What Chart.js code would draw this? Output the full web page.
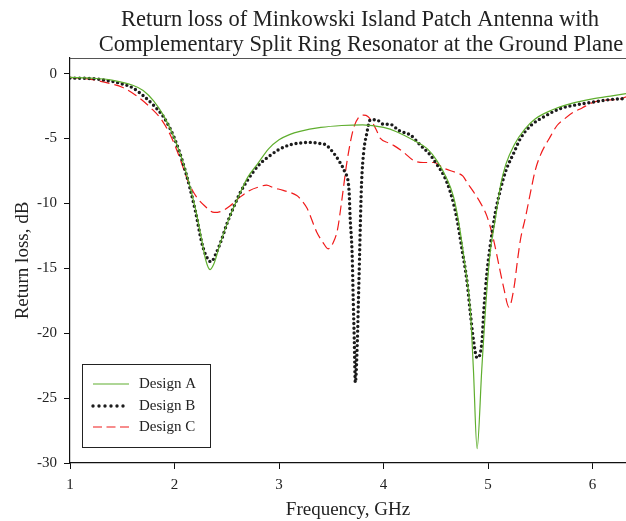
<!DOCTYPE html>
<html>
<head>
<meta charset="utf-8">
<script src="https://cdn.jsdelivr.net/npm/chart.js@4.4.1/dist/chart.umd.min.js"></script>
<style>
html,body{margin:0;padding:0;background:#fff;}
#c{display:block;}
</style>
</head>
<body>
<canvas id="c" width="626" height="521"></canvas>
<script>
// ---- data ----
const titleLines = ["Return loss of Minkowski Island Patch Antenna with", "Complementary Split Ring Resonator at the Ground Plane"];
const xLabel = "Frequency, GHz";
const yLabel = "Return loss, dB";
const seriesNames = ["Design A", "Design B", "Design C"];
const xTicks = [1, 2, 3, 4, 5, 6];
const yTicks = [0, -5, -10, -15, -20, -25, -30];

const freqA = [1.0,1.2,1.4,1.6,1.7,1.8,1.9,2.0,2.1,2.2,2.26,2.3,2.34,2.38,2.44,2.53,2.6,2.7,2.8,2.9,3.0,3.1,3.2,3.4,3.6,3.8,4.0,4.13,4.3,4.42,4.51,4.6,4.67,4.72,4.78,4.83,4.86,4.895,4.94,4.975,5.02,5.07,5.12,5.17,5.25,5.35,5.45,5.6,5.8,6.0,6.2,6.32];
const lossA = [-0.3,-0.35,-0.5,-0.9,-1.3,-2.1,-3.3,-5.0,-7.3,-10.4,-12.8,-14.4,-15.1,-14.6,-13.0,-11.0,-9.7,-8.0,-6.9,-5.8,-5.1,-4.7,-4.45,-4.15,-4.0,-3.95,-4.15,-4.5,-5.2,-5.8,-6.7,-8.0,-9.5,-11.5,-14.8,-18.2,-22.8,-28.9,-22.8,-18.2,-13.8,-11.2,-8.6,-7.0,-5.5,-4.3,-3.5,-2.85,-2.3,-1.95,-1.7,-1.55];

const freqB = [1.0,1.2,1.4,1.5,1.6,1.7,1.8,1.9,2.0,2.1,2.2,2.26,2.3,2.35,2.4,2.45,2.5,2.56,2.63,2.7,2.8,2.9,3.0,3.1,3.2,3.3,3.4,3.45,3.52,3.58,3.63,3.67,3.68,3.7,3.71,3.72,3.73,3.75,3.76,3.77,3.78,3.79,3.81,3.84,3.87,3.93,4.0,4.06,4.15,4.26,4.35,4.45,4.51,4.58,4.64,4.7,4.75,4.8,4.83,4.86,4.895,4.94,4.96,4.99,5.02,5.07,5.12,5.17,5.25,5.31,5.41,5.53,5.69,5.85,6.01,6.17,6.32];
const lossB = [-0.35,-0.38,-0.6,-0.8,-1.1,-1.7,-2.45,-3.4,-5.0,-7.4,-10.6,-13.0,-14.0,-14.5,-13.8,-12.8,-11.6,-10.4,-9.15,-8.2,-7.1,-6.4,-5.85,-5.5,-5.35,-5.3,-5.4,-5.5,-6.1,-6.8,-7.6,-9.0,-11.0,-14.0,-17.4,-20.5,-23.8,-20.5,-17.4,-14.3,-11.0,-8.4,-6.05,-4.6,-3.6,-3.55,-3.9,-3.9,-4.4,-4.75,-5.5,-6.3,-7.0,-7.9,-9.15,-11.1,-13.5,-16.1,-18.4,-20.5,-21.9,-20.8,-18.2,-15.3,-13.3,-10.7,-8.9,-7.5,-6.05,-5.0,-4.0,-3.35,-2.7,-2.4,-2.19,-2.0,-1.93];

const freqC = [1.0,1.2,1.4,1.5,1.65,1.78,1.88,1.97,2.05,2.13,2.21,2.29,2.38,2.45,2.53,2.63,2.72,2.8,2.88,2.95,3.04,3.17,3.22,3.27,3.36,3.42,3.47,3.52,3.56,3.6,3.65,3.71,3.76,3.81,3.85,3.89,3.94,3.97,4.05,4.1,4.19,4.29,4.38,4.48,4.58,4.7,4.76,4.8,4.86,4.93,4.99,5.05,5.1,5.15,5.2,5.25,5.28,5.31,5.36,5.41,5.45,5.5,5.6,5.66,5.73,5.82,5.9,5.98,6.1,6.24,6.32];
const lossC = [-0.3,-0.45,-0.8,-1.05,-1.8,-2.7,-3.6,-4.9,-6.5,-8.3,-9.5,-10.2,-10.7,-10.6,-10.2,-9.5,-9.0,-8.75,-8.6,-8.8,-9.0,-9.4,-9.8,-10.4,-12.2,-13.0,-13.5,-13.0,-12.0,-9.8,-6.8,-4.3,-3.4,-3.2,-3.3,-3.7,-4.5,-5.0,-5.35,-5.55,-6.05,-6.7,-6.85,-6.85,-7.3,-7.65,-7.9,-8.4,-9.1,-10.0,-11.0,-12.7,-14.6,-16.5,-18.0,-16.4,-14.5,-12.8,-11.0,-9.0,-7.5,-6.3,-4.8,-4.0,-3.5,-2.96,-2.65,-2.3,-2.05,-2.0,-1.8];

const xMin = 1, xMax = 6.32, yMin = -30, yMax = 1.2;

function pts(f, v) { return f.map((x, i) => ({x: x, y: v[i]})); }

const SERIF = "'Liberation Serif', 'DejaVu Serif', serif";
const TXT = "#222";

const decorPlugin = {
  id: "decor",
  afterDraw(chart) {
    const ctx = chart.ctx;
    const a = chart.chartArea;
    ctx.save();
    // top frame line
    ctx.strokeStyle = "#555";
    ctx.lineWidth = 1;
    ctx.beginPath();
    ctx.moveTo(a.left, a.top + 0.5);
    ctx.lineTo(a.right, a.top + 0.5);
    ctx.stroke();
    // title
    ctx.fillStyle = TXT;
    ctx.textAlign = "center";
    ctx.textBaseline = "middle";
    ctx.font = "22.5px " + SERIF;
    ctx.fillText(titleLines[0], 360, 20);
    ctx.fillText(titleLines[1], 361, 45);
    // axis titles
    ctx.font = "19px " + SERIF;
    ctx.fillText(xLabel, (a.left + a.right) / 2, 510);
    ctx.save();
    ctx.translate(23, (a.top + a.bottom) / 2);
    ctx.rotate(-Math.PI / 2);
    ctx.fillText(yLabel, 0, 0);
    ctx.restore();
    // legend
    const bx = 82, by = 364, bw = 128, bh = 83;
    ctx.fillStyle = "#fff";
    ctx.fillRect(bx, by, bw, bh);
    ctx.strokeStyle = "#222";
    ctx.lineWidth = 1;
    ctx.strokeRect(bx + 0.5, by + 0.5, bw, bh);
    const rows = [384, 406, 427];
    chart.data.datasets.forEach((ds, i) => {
      const y = rows[i];
      ctx.save();
      ctx.strokeStyle = ds.borderColor;
      ctx.lineWidth = ds.borderWidth;
      ctx.lineCap = ds.borderCapStyle || "butt";
      ctx.setLineDash(ds.legendDash || []);
      ctx.beginPath();
      ctx.moveTo(93, y);
      ctx.lineTo(129, y);
      ctx.stroke();
      ctx.restore();
      ctx.fillStyle = TXT;
      ctx.textAlign = "left";
      ctx.textBaseline = "middle";
      ctx.font = "15px " + SERIF;
      ctx.fillText(ds.label, 139, y);
    });
    ctx.restore();
  }
};

new Chart(document.getElementById("c"), {
  type: "line",
  data: {
    datasets: [
      {label: seriesNames[0], data: pts(freqA, lossA), borderColor: "#5fae2e", borderWidth: 1.2, pointRadius: 0, cubicInterpolationMode: "monotone", fill: false, legendDash: []},
      {label: seriesNames[1], data: pts(freqB, lossB), borderColor: "#1c1c1c", borderWidth: 3.4, borderDash: [0, 4.8], borderCapStyle: "round", pointRadius: 0, cubicInterpolationMode: "monotone", fill: false, legendDash: [0, 6]},
      {label: seriesNames[2], data: pts(freqC, lossC), borderColor: "#f01a1a", borderWidth: 1.2, borderDash: [10, 5], pointRadius: 0, cubicInterpolationMode: "monotone", fill: false, legendDash: [9, 4.5]}
    ]
  },
  options: {
    responsive: false,
    animation: false,
    devicePixelRatio: 1,
    layout: {padding: {left: 0, right: 0, top: 58, bottom: 0}},
    plugins: {legend: {display: false}, title: {display: false}, tooltip: {enabled: false}},
    scales: {
      x: {
        type: "linear", min: xMin, max: xMax,
        afterBuildTicks: s => { s.ticks = xTicks.map(v => ({value: v})); },
        afterFit: s => { s.height = 58; },
        grid: {display: true, drawOnChartArea: false, drawTicks: true, tickLength: 6, color: "#111", lineWidth: 1},
        border: {display: true, color: "#111", width: 1.2},
        ticks: {font: {family: SERIF, size: 15}, color: TXT, padding: 7, maxRotation: 0}
      },
      y: {
        type: "linear", min: yMin, max: yMax,
        afterBuildTicks: s => { s.ticks = yTicks.map(v => ({value: v})); },
        afterFit: s => { s.width = 70; },
        grid: {display: true, drawOnChartArea: false, drawTicks: true, tickLength: 6, color: "#111", lineWidth: 1},
        border: {display: true, color: "#111", width: 1.2},
        ticks: {font: {family: SERIF, size: 15}, color: TXT, padding: 7}
      }
    }
  },
  plugins: [decorPlugin]
});
</script>
</body>
</html>
